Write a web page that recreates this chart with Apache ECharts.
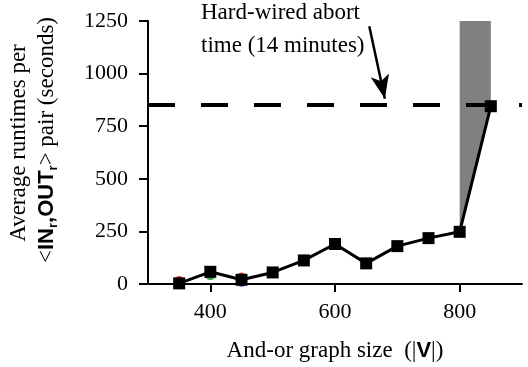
<!DOCTYPE html>
<html>
<head>
<meta charset="utf-8">
<script src="https://cdn.jsdelivr.net/npm/echarts@6/dist/echarts.min.js"></script>
<style>
  html, body { margin: 0; padding: 0; background: #fff; }
  #chart { width: 528px; height: 367px; }
</style>
</head>
<body>
<div id="chart"></div>
<script>
// graph sizes and average runtime (seconds)
const sizes = [350, 400, 450, 500, 550, 600, 650, 700, 750, 800, 850]
const runtimes = [3, 58, 20, 55, 112, 190, 98, 180, 218, 248, 845]
// other runs hidden behind the black curve
const redPts = [[350, 12], [450, 28]]
const greenPts = [[400, 45]]
const bluePts = [[350, -4], [450, 8]]
// shaded region above the last segment
const shadeX = [800, 800, 850, 850]
const shadeY = [248, 1250, 1250, 845]
const abortLimit = 852
const xTicks = [400, 600, 800]

const serif = 'Liberation Serif'
const chart = echarts.init(document.getElementById('chart'))

const option = {
  backgroundColor: '#fff',
  animation: false,
  grid: { left: 148, right: 6, top: 21, bottom: 83, containLabel: false, outerBoundsMode: 'none' },
  xAxis: {
    type: 'value',
    min: 300,
    max: 900,
    interval: 100,
    splitLine: { show: false },
    axisLine: { lineStyle: { color: '#000', width: 2 } },
    axisTick: { customValues: xTicks, length: 8, lineStyle: { color: '#000', width: 2 } },
    axisLabel: { customValues: xTicks, color: '#000', fontFamily: serif, fontSize: 22, margin: 17 },
    name: '{a|And-or graph size  (|}{b|V}{a||)}',
    nameLocation: 'middle',
    nameGap: 55,
    nameTextStyle: {
      rich: {
        a: { fontFamily: serif, fontSize: 23, color: '#000' },
        b: { fontFamily: 'Liberation Sans', fontWeight: 'bold', fontSize: 22, color: '#000' }
      }
    }
  },
  yAxis: {
    type: 'value',
    min: 0,
    max: 1250,
    interval: 250,
    splitLine: { show: false },
    axisLine: { show: true, lineStyle: { color: '#000', width: 2 } },
    axisTick: { show: true, length: 9, lineStyle: { color: '#000', width: 2 } },
    axisLabel: { color: '#000', fontFamily: serif, fontSize: 22, margin: 20, formatter: v => String(v) }
  },
  graphic: [
    {
      type: 'text',
      x: 19, y: 143,
      rotation: Math.PI / 2,
      style: {
        text: 'Average runtimes per',
        font: '23px "Liberation Serif"',
        fill: '#000',
        align: 'center',
        verticalAlign: 'middle'
      }
    },
    {
      type: 'text',
      x: 47, y: 140,
      rotation: Math.PI / 2,
      style: {
        text: '{s|<}{b|IN}{r|r}{b|,OUT}{r|r}{s|> pair (seconds)}',
        align: 'center',
        verticalAlign: 'middle',
        rich: {
          s: { fontFamily: serif, fontSize: 23, fill: '#000' },
          b: { fontFamily: 'Liberation Sans', fontWeight: 'bold', fontSize: 22, fill: '#000' },
          r: { fontFamily: 'Liberation Sans', fontWeight: 'bold', fontSize: 13, fill: '#000', padding: [12, 0, 0, 0] }
        }
      }
    },
    {
      type: 'text',
      x: 201, y: -4,
      style: {
        text: 'Hard-wired abort\ntime (14 minutes)',
        font: '23px "Liberation Serif"',
        lineHeight: 33,
        fill: '#000'
      }
    }
  ],
  series: [
    {
      type: 'custom',
      silent: true,
      renderItem: (params, api) => {
        const pts = shadeX.map((x, i) => api.coord([x, shadeY[i]]))
        return { type: 'polygon', shape: { points: pts }, style: { fill: '#808080' } }
      },
      data: [0],
      z: 1
    },
    {
      type: 'line',
      data: [],
      z: 2,
      markLine: {
        silent: true,
        symbol: 'none',
        label: { show: false },
        lineStyle: { color: '#000', width: 4, type: [27, 26] },
        data: [{ yAxis: abortLimit }]
      }
    },
    {
      type: 'line',
      data: [],
      z: 2,
      markLine: {
        silent: true,
        symbol: ['none', 'arrow'],
        symbolSize: [14, 24],
        label: { show: false },
        lineStyle: { color: '#000', width: 2.5, type: 'solid' },
        data: [[{ coord: [655, 1225] }, { coord: [680, 880] }]]
      }
    },
    { type: 'scatter', data: redPts, symbol: 'circle', symbolSize: 11, itemStyle: { color: '#e00000' }, clip: false, z: 3 },
    { type: 'scatter', data: greenPts, symbol: 'circle', symbolSize: 11, itemStyle: { color: '#109010' }, clip: false, z: 3 },
    { type: 'scatter', data: bluePts, symbol: 'circle', symbolSize: 9, itemStyle: { color: '#1010d0' }, clip: false, z: 3 },
    {
      type: 'line',
      data: sizes.map((x, i) => [x, runtimes[i]]),
      symbol: 'rect',
      symbolSize: 12,
      lineStyle: { color: '#000', width: 3 },
      itemStyle: { color: '#000' },
      clip: false,
      z: 4
    }
  ]
}

chart.setOption(option)
</script>
</body>
</html>
